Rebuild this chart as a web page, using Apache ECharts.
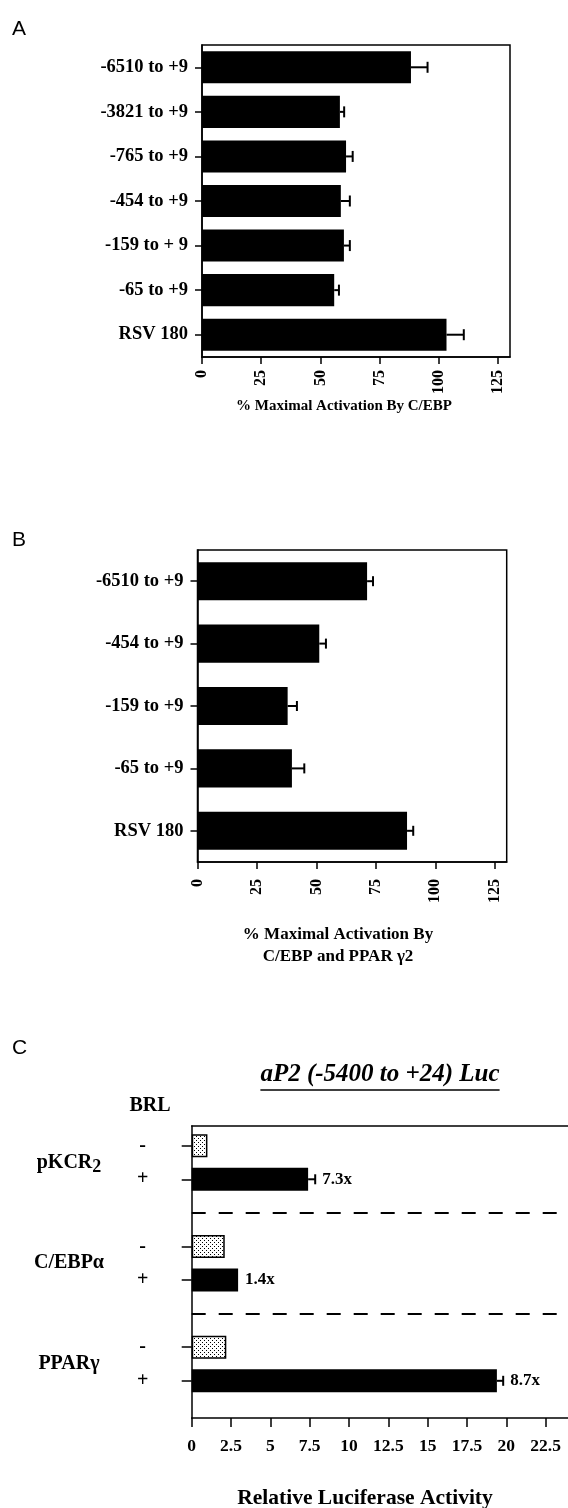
<!DOCTYPE html>
<html><head><meta charset="utf-8">
<script src="https://cdn.jsdelivr.net/npm/echarts@6/dist/echarts.min.js"></script>
<style>html,body{margin:0;padding:0;background:#fff;}#c{width:568px;height:1508px;}</style>
</head><body><div id="c"></div>
<script>
// ---------- Panel A ----------
const aCategories = ['-6510 to +9', '-3821 to +9', '-765 to +9', '-454 to +9', '-159 to + 9', '-65 to +9', 'RSV 180'];
const aValues = [88.2, 58.2, 60.8, 58.6, 59.9, 55.8, 103.2];
const aErrEnd = [95.2, 60.0, 63.6, 62.4, 62.4, 57.8, 110.5];
const aTicks = [0, 25, 50, 75, 100, 125];
// ---------- Panel B ----------
const bCategories = ['-6510 to +9', '-454 to +9', '-159 to +9', '-65 to +9', 'RSV 180'];
const bValues = [71.3, 51.2, 37.9, 39.7, 88.1];
const bErrEnd = [73.8, 54.0, 41.8, 44.9, 90.7];
const bTicks = [0, 25, 50, 75, 100, 125];
// ---------- Panel C ----------
const cGroups = ['pKCR', 'C/EBPα', 'PPARγ'];
const cGroupSub = ['2', '', ''];
const cBRL = ['-', '+'];
const cMinus = [1.0, 2.1, 2.2];
const cPlus = [7.4, 2.95, 19.4];
const cPlusErrEnd = [7.85, null, 19.8];
const cFold = ['7.3x', '1.4x', '8.7x'];
const cTicks = [0, 2.5, 5, 7.5, 10, 12.5, 15, 17.5, 20, 22.5];

const SERIF = '"Liberation Serif", "Times New Roman", serif';
const SANS = '"Liberation Sans", Arial, sans-serif';

// stipple pattern for BRL "-" bars
const pat = document.createElement('canvas');
pat.width = 4; pat.height = 4;
(function () {
  const g = pat.getContext('2d');
  g.fillStyle = '#fff'; g.fillRect(0, 0, 4, 4);
  g.fillStyle = '#000';
  g.fillRect(0, 0, 1, 1); g.fillRect(2, 2, 1, 1);
})();

const measure = document.createElement('canvas').getContext('2d');
function textWidth(t, font) { measure.font = font; return measure.measureText(t).width; }

// build panel C rows
const cRows = [];
const cBarData = [];
cGroups.forEach((g, i) => {
  cRows.push(g + '|' + cBRL[0]); cBarData.push({ value: cMinus[i], itemStyle: { color: { image: pat, repeat: 'repeat' }, borderColor: '#000', borderWidth: 1.5 } });
  cRows.push(g + '|' + cBRL[1]); cBarData.push({ value: cPlus[i], itemStyle: { color: '#000' } });
  if (i < cGroups.length - 1) { cRows.push('sep' + i); cBarData.push('-'); }
});
const sepRows = cRows.filter(r => r.startsWith('sep'));

function errRender(capH) {
  return function (params, api) {
    const a = api.coord([api.value(0), api.value(2)]);
    const b = api.coord([api.value(1), api.value(2)]);
    return {
      type: 'group', children: [
        { type: 'line', shape: { x1: a[0], y1: a[1], x2: b[0], y2: b[1] }, style: { stroke: '#000', lineWidth: 2 } },
        { type: 'line', shape: { x1: b[0], y1: b[1] - capH / 2, x2: b[0], y2: b[1] + capH / 2 }, style: { stroke: '#000', lineWidth: 2 } }
      ]
    };
  };
}

const tickLabelFont = { fontFamily: SERIF, fontWeight: 'bold', color: '#000' };
const frame = { show: true, borderColor: '#000', borderWidth: 1.5, backgroundColor: 'transparent' };
const axLine = { show: true, lineStyle: { color: '#000', width: 1.5 } };
const lineOnly = { show: true, axisLine: axLine, axisTick: { show: false }, axisLabel: { show: false }, splitLine: { show: false } };

const chart = echarts.init(document.getElementById('c'), null, { renderer: 'canvas' });

const C_LEFT = 191.7, C_MAX = 23.92;

const option = {
  animation: false,
  backgroundColor: '#fff',
  grid: [
    Object.assign({ left: 202, right: 58, top: 45, bottom: 1151 }, frame),
    Object.assign({ left: 197.5, right: 61.3, top: 550, bottom: 646 }, frame),
    { left: C_LEFT, right: 0, top: 1126, bottom: 90, show: false },
    { left: C_LEFT, right: 0, top: 1128.9, bottom: 110.4, show: false }
  ],
  xAxis: [
    { gridIndex: 0, type: 'value', min: 0, max: 130, axisLine: axLine, splitLine: { show: false },
      axisTick: { show: true, length: 7, lineStyle: { color: '#000', width: 1.5 }, customValues: aTicks },
      axisLabel: Object.assign({ rotate: 90, fontSize: 16, margin: 13, customValues: aTicks }, tickLabelFont) },
    { gridIndex: 1, type: 'value', min: 0, max: 130, axisLine: axLine, splitLine: { show: false },
      axisTick: { show: true, length: 7, lineStyle: { color: '#000', width: 1.5 }, customValues: bTicks },
      axisLabel: Object.assign({ rotate: 90, fontSize: 16, margin: 17, customValues: bTicks }, tickLabelFont) },
    { gridIndex: 2, type: 'value', position: 'bottom', min: 0, max: C_MAX, axisLine: axLine, splitLine: { show: false },
      axisTick: { show: true, length: 9, lineStyle: { color: '#000', width: 1.5 }, customValues: cTicks },
      axisLabel: Object.assign({ fontSize: 17.5, margin: 19, customValues: cTicks }, tickLabelFont) },
    { gridIndex: 3, type: 'value', min: 0, max: C_MAX, show: false },
    Object.assign({ gridIndex: 2, type: 'value', position: 'top', min: 0, max: C_MAX }, lineOnly)
  ],
  yAxis: [
    { gridIndex: 0, type: 'category', inverse: true, data: aCategories, axisLine: axLine,
      axisTick: { show: true, length: 7, alignWithLabel: true, lineStyle: { color: '#000', width: 1.5 } },
      axisLabel: Object.assign({ fontSize: 18.5, margin: 14, interval: 0 }, tickLabelFont) },
    { gridIndex: 1, type: 'category', inverse: true, data: bCategories, axisLine: axLine,
      axisTick: { show: true, length: 7, alignWithLabel: true, lineStyle: { color: '#000', width: 1.5 } },
      axisLabel: Object.assign({ fontSize: 18.5, margin: 14, interval: 0 }, tickLabelFont) },
    Object.assign({ gridIndex: 2, type: 'value', min: 0, max: 1, position: 'left' }, lineOnly),
    { gridIndex: 3, type: 'category', inverse: true, data: cRows, axisLine: { show: false },
      axisTick: { show: true, length: 10, alignWithLabel: true, interval: (i, v) => !String(v).startsWith('sep'), lineStyle: { color: '#000', width: 1.5 } },
      axisLabel: Object.assign({ fontSize: 20, margin: 49, align: 'center', interval: 0, formatter: v => v.startsWith('sep') ? '' : v.split('|')[1] }, tickLabelFont) }
  ],
  series: [
    { type: 'bar', xAxisIndex: 0, yAxisIndex: 0, data: aValues, barCategoryGap: '28%', itemStyle: { color: '#000' } },
    { type: 'custom', xAxisIndex: 0, yAxisIndex: 0, renderItem: errRender(11), encode: { x: [0, 1], y: 2 },
      data: aValues.map((v, i) => [v, aErrEnd[i], i]) },
    { type: 'bar', xAxisIndex: 1, yAxisIndex: 1, data: bValues, barCategoryGap: '39%', itemStyle: { color: '#000' } },
    { type: 'custom', xAxisIndex: 1, yAxisIndex: 1, renderItem: errRender(10), encode: { x: [0, 1], y: 2 },
      data: bValues.map((v, i) => [v, bErrEnd[i], i]) },
    { type: 'bar', xAxisIndex: 3, yAxisIndex: 3, data: cBarData, barWidth: 23,
      markLine: { silent: true, symbol: 'none', label: { show: false },
        lineStyle: { color: '#000', width: 2, type: [14, 13] },
        data: sepRows.map(r => ({ yAxis: r })) } },
    { type: 'custom', xAxisIndex: 3, yAxisIndex: 3, renderItem: errRender(10), encode: { x: [0, 1], y: 2 },
      data: cGroups.map((g, i) => cPlusErrEnd[i] == null ? null : [cPlus[i], cPlusErrEnd[i], cRows.indexOf(g + '|+')]).filter(d => d) },
    { type: 'custom', xAxisIndex: 3, yAxisIndex: 3, encode: { x: 0, y: 1 },
      data: cGroups.map((g, i) => [cPlusErrEnd[i] == null ? cPlus[i] : cPlusErrEnd[i], cRows.indexOf(g + '|+')]),
      renderItem: function (params, api) {
        const p = api.coord([api.value(0), api.value(1)]);
        return { type: 'text', x: p[0] + 7, y: p[1],
          style: { text: cFold[params.dataIndex], font: 'bold 17px ' + SERIF, fill: '#000', textAlign: 'left', textVerticalAlign: 'middle' } };
      } },
    { type: 'custom', xAxisIndex: 3, yAxisIndex: 3, encode: { x: 0, y: [1, 2] },
      data: cGroups.map((g, i) => [0, cRows.indexOf(g + '|-'), cRows.indexOf(g + '|+')]),
      renderItem: function (params, api) {
        const i = params.dataIndex;
        const p1 = api.coord([0, api.value(1)]);
        const p2 = api.coord([0, api.value(2)]);
        const y = (p1[1] + p2[1]) / 2;
        const f = 'bold 20px ' + SERIF;
        const fs = 'bold 18px ' + SERIF;
        const w = textWidth(cGroups[i], f) + (cGroupSub[i] ? textWidth(cGroupSub[i], fs) : 0);
        const x0 = 69 - w / 2;
        const kids = [{ type: 'text', x: x0, y: y, style: { text: cGroups[i], font: f, fill: '#000', textAlign: 'left', textVerticalAlign: 'middle' } }];
        if (cGroupSub[i]) kids.push({ type: 'text', x: x0 + textWidth(cGroups[i], f), y: y + 5,
          style: { text: cGroupSub[i], font: fs, fill: '#000', textAlign: 'left', textVerticalAlign: 'middle' } });
        return { type: 'group', children: kids };
      } }
  ],
  graphic: (function () {
    const tfont = 'italic bold 25px ' + SERIF;
    const title = 'aP2 (-5400 to +24) Luc';
    const tw = textWidth(title, tfont);
    const tcx = 380;
    return [
      { type: 'text', x: 12, y: 29, style: { text: 'A', font: '21px ' + SANS, fill: '#000', textVerticalAlign: 'middle' } },
      { type: 'text', x: 12, y: 540, style: { text: 'B', font: '21px ' + SANS, fill: '#000', textVerticalAlign: 'middle' } },
      { type: 'text', x: 12, y: 1048, style: { text: 'C', font: '21px ' + SANS, fill: '#000', textVerticalAlign: 'middle' } },
      { type: 'text', x: 344, y: 406, style: { text: '% Maximal Activation By C/EBP', font: 'bold 15px ' + SERIF, fill: '#000', textAlign: 'center', textVerticalAlign: 'middle' } },
      { type: 'text', x: 338, y: 935, style: { text: '% Maximal Activation By', font: 'bold 17px ' + SERIF, fill: '#000', textAlign: 'center', textVerticalAlign: 'middle' } },
      { type: 'text', x: 338, y: 957, style: { text: 'C/EBP and PPAR γ2', font: 'bold 17px ' + SERIF, fill: '#000', textAlign: 'center', textVerticalAlign: 'middle' } },
      { type: 'text', x: tcx, y: 1075, style: { text: title, font: tfont, fill: '#000', textAlign: 'center', textVerticalAlign: 'middle' } },
      { type: 'line', shape: { x1: tcx - tw / 2, y1: 1090, x2: tcx + tw / 2, y2: 1090 }, style: { stroke: '#000', lineWidth: 1.5 } },
      { type: 'text', x: 150, y: 1106, style: { text: 'BRL', font: 'bold 20px ' + SERIF, fill: '#000', textAlign: 'center', textVerticalAlign: 'middle' } },
      { type: 'text', x: 365, y: 1498, style: { text: 'Relative Luciferase Activity', font: 'bold 21.5px ' + SERIF, fill: '#000', textAlign: 'center', textVerticalAlign: 'middle' } }
    ];
  })()
};
chart.setOption(option);
</script></body></html>
